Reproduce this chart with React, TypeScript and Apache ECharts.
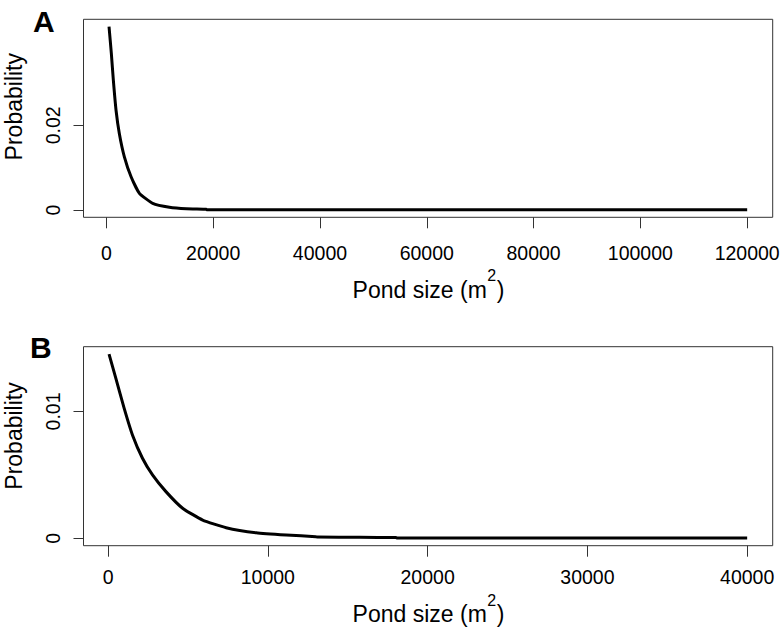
import React, { useEffect, useRef } from "react";
import * as echarts from "echarts";

// Panel A: pond size (m^2) vs probability
const sizeA = [500, 937, 1312, 1818, 2436, 3373, 4629, 6184, 8677, 11806, 15000, 18700, 18800, 60000, 120000];
const probA = [0.0433, 0.0369, 0.0306, 0.0235, 0.018, 0.01254, 0.00784, 0.00393, 0.00158, 0.00064, 0.00028, 0.00016, 0.00004, 0.00003, 0.00003];

// Panel B
const sizeB = [60, 483, 1004, 1525, 2153, 2781, 3622, 4664, 5919, 7388, 9271, 11154, 13000, 13100, 15755, 18000, 18100, 40000];
const probB = [0.01452, 0.01262, 0.01026, 0.00815, 0.00631, 0.005, 0.00368, 0.00237, 0.00144, 0.00084, 0.00044, 0.00026, 0.00013, 0.0001, 0.00008, 0.00006, 0.00003, 0.00002];

const xTicksA = [0, 20000, 40000, 60000, 80000, 100000, 120000];
const yTicksA = [0, 0.02];
const xTicksB = [0, 10000, 20000, 30000, 40000];
const yTicksB = [0, 0.01];

const FONT = '"Liberation Sans", Arial, Helvetica, sans-serif';

function measure(text: string, size: number): number {
  const c = document.createElement("canvas").getContext("2d");
  if (!c) return text.length * size * 0.55;
  c.font = `${size}px ${FONT}`;
  return c.measureText(text).width;
}

export default function App() {
  const ref = useRef<HTMLDivElement>(null);
  useEffect(() => {
    document.body.style.margin = "0";
    const chart = echarts.init(ref.current!, null, { renderer: "svg" });
    const axisColor = "#333";
    const mkX = (idx: number, min: number, max: number, ticks: number[], margin: number) => ({
      type: "value",
      gridIndex: idx,
      position: "bottom",
      min,
      max,
      splitLine: { show: false },
      axisLine: { show: false, onZero: false },
      axisTick: { show: true, inside: false, length: 11, customValues: ticks, lineStyle: { color: axisColor, width: 1 } },
      axisLabel: {
        customValues: ticks,
        margin,
        fontSize: 19.5,
        fontFamily: FONT,
        color: "#000",
        formatter: (v: number) => String(v),
      },
    });
    const mkY = (idx: number, min: number, max: number, ticks: number[]) => ({
      type: "value",
      gridIndex: idx,
      position: "left",
      min,
      max,
      splitLine: { show: false },
      axisLine: { show: false, onZero: false },
      axisTick: { show: true, inside: false, length: 10, customValues: ticks, lineStyle: { color: axisColor, width: 1 } },
      axisLabel: {
        customValues: ticks,
        rotate: 90,
        margin: 21,
        fontSize: 19.5,
        fontFamily: FONT,
        color: "#000",
        formatter: (v: number) => (v === 0 ? "0" : String(v)),
      },
    });

    const MAIN = 23;
    const SUP = 16;
    const t1 = "Pond size (m";
    const t2 = "2";
    const t3 = ")";
    const w1 = measure(t1, MAIN);
    const w2 = measure(t2, SUP);
    const w3 = measure(t3, MAIN);
    const startX = 428 - (w1 + w2 + w3) / 2;
    const txt = (text: string, x: number, y: number, size: number) => ({
      type: "text",
      x,
      y,
      style: { text, font: `${size}px ${FONT}`, align: "left", verticalAlign: "middle", fill: "#000" },
    });
    const xTitle = (y: number) => [
      txt(t1, startX, y, MAIN),
      txt(t2, startX + w1 + 0.5, y - 14, SUP),
      txt(t3, startX + w1 + w2 + 1, y, MAIN),
    ];
    const yTitle = (y: number) => ({
      type: "text",
      x: 13.5,
      y,
      rotation: Math.PI / 2,
      style: {
        text: "Probability",
        font: `23px ${FONT}`,
        align: "center",
        verticalAlign: "middle",
        fill: "#000",
      },
    });
    const panel = (t: string, x: number, y: number) => ({
      type: "text",
      x,
      y,
      style: {
        text: t,
        font: `bold 30px ${FONT}`,
        align: "left",
        verticalAlign: "middle",
        fill: "#000",
      },
    });

    chart.setOption({
      animation: false,
      backgroundColor: "#fff",
      grid: [
        { left: 83.5, right: 10.3, top: 19.3, height: 198, show: true, borderColor: axisColor, borderWidth: 1, backgroundColor: "transparent" },
        { left: 83.5, right: 10.3, top: 346.7, height: 199, show: true, borderColor: axisColor, borderWidth: 1, backgroundColor: "transparent" },
      ],
      xAxis: [mkX(0, -4280, 124780, xTicksA, 26), mkX(1, -1538, 41598, xTicksB, 21)],
      yAxis: [mkY(0, -0.001732, 0.045032, yTicksA), mkY(1, -0.000581, 0.015101, yTicksB)],
      series: [
        {
          type: "line",
          xAxisIndex: 0,
          yAxisIndex: 0,
          data: sizeA.map((x, i) => [x, probA[i]]),
          showSymbol: false,
          smooth: 0.15,
          lineStyle: { color: "#000", width: 3, join: "round" },
        },
        {
          type: "line",
          xAxisIndex: 1,
          yAxisIndex: 1,
          data: sizeB.map((x, i) => [x, probB[i]]),
          showSymbol: false,
          smooth: 0.15,
          lineStyle: { color: "#000", width: 3, join: "round" },
        },
      ],
      graphic: [
        panel("A", 33, 21),
        panel("B", 30, 347.5),
        yTitle(106.7),
        yTitle(436),
        ...xTitle(289.5),
        ...xTitle(614),
      ],
    });
    return () => chart.dispose();
  }, []);
  return <div ref={ref} style={{ width: 783, height: 628 }} />;
}
